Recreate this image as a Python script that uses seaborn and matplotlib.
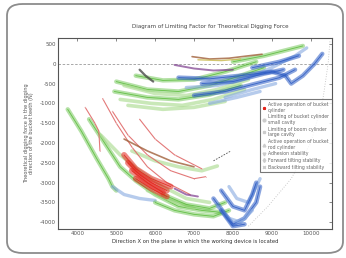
import matplotlib
matplotlib.use("Agg")
import matplotlib.pyplot as plt
import seaborn as sns
import pandas as pd
from matplotlib.lines import Line2D
from matplotlib.patches import FancyBboxPatch

sns.set_theme(style="white")
plt.rcParams['font.family'] = ['DejaVu Sans']

# ---------------- data ----------------
x_ticks = [4000, 5000, 6000, 7000, 8000, 9000, 10000]
y_ticks = [500, 0, -500, -1000, -1500, -2000, -2500, -3000, -3500, -4000]

legend_labels = [
    "Active operation of bucket\ncylinder",
    "Limiting of bucket cylinder\nsmall cavity",
    "Limiting of boom cylinder\nlarge cavity",
    "Active operation of bucket\nrod cylinder",
    "Adhesion stability",
    "Forward tilting stability",
    "Backward tilting stability",
]

# upper group
ga_x = [5000, 5800, 6600, 7400, 8200, 8800]
ga_y = [-450, -650, -700, -550, -300, -100]
gb_x = [4950, 5800, 6600, 7400, 8200]
gb_y = [-700, -850, -900, -780, -550]
gc_x = [5100, 5900, 6700, 7500, 8300]
gc_y = [-900, -1000, -1050, -900, -650]
gd_x = [5500, 6200, 7000, 7800, 8600]
gd_y = [-300, -420, -400, -200, 50]
ge_x = [8000, 8800, 9400, 9800]
ge_y = [50, 200, 350, 450]
gf_x = [5200, 6000, 6800, 7600, 8400]
gf_y = [-550, -750, -800, -650, -400]
gg_x = [5300, 6200, 7000, 7800]
gg_y = [-1050, -1150, -1100, -950]
ba_x = [6600, 7400, 8200, 9000, 9350, 9500, 9800, 10100, 10300]
ba_y = [-350, -380, -300, -200, -300, -500, -300, 0, 250]
bb_x = [6800, 7600, 8400, 9000, 9600, 9900]
bb_y = [-600, -550, -350, -100, 200, 400]
bc_x = [7000, 7800, 8600, 9200, 9600]
bc_y = [-800, -700, -500, -350, -150]
bd_x = [7400, 8100, 8700]
bd_y = [-1000, -850, -700]
be_x = [7200, 8000, 8800, 9300]
be_y = [-500, -450, -250, -150]
bf_x = [7800, 8500, 9100]
bf_y = [-850, -650, -500]
bg_x = [8500, 9200, 9700]
bg_y = [-100, 50, 200]
pa_x = [6500, 7000, 7500, 8000]
pa_y = [-30, -120, -170, -150]
br_up_x = [6950, 7400, 7900, 8400, 8750]
br_up_y = [180, 120, 140, 200, 240]
yl_up_x = [7100, 7700, 8200]
yl_up_y = [100, 80, 120]
dk_x = [5600, 5750, 5950]
dk_y = [-150, -300, -450]

# lower group
gl_x = [3750, 4100, 4500, 4800, 4900, 5000]
gl_y = [-1150, -1700, -2400, -2900, -3100, -3200]
bl_x = [4900, 5200, 5600, 6000]
bl_y = [-3100, -3300, -3400, -3450]
g2_x = [4300, 4700, 5100, 5500, 6000, 6600, 7200, 7700]
g2_y = [-1400, -2000, -2600, -2950, -3300, -3600, -3700, -3750]
g3_x = [4600, 5100, 5600, 6200, 6800, 7400]
g3_y = [-1800, -2300, -2700, -3100, -3400, -3500]
g4_x = [5400, 6000, 6600, 7200, 7600]
g4_y = [-2200, -2450, -2600, -2700, -2580]
g5_x = [6000, 6500, 7000, 7500, 7900]
g5_y = [-3500, -3700, -3800, -3850, -3700]
g6_x = [6200, 6800, 7400, 7800]
g6_y = [-3300, -3550, -3650, -3500]
g7_x = [5800, 6400, 7000]
g7_y = [-3200, -3450, -3650]
r1_x = [4200, 4450, 4550, 4580]
r1_y = [-1100, -1500, -1700, -2200]
r2_x = [4650, 5000, 5400, 5800, 6300, 6900]
r2_y = [-880, -1500, -2100, -2600, -3000, -3300]
r3_x = [4900, 5300, 5800, 6400, 7000, 7300]
r3_y = [-1200, -1800, -2300, -2700, -2900, -2850]
r4_x = [5600, 6000, 6500, 7000, 7200]
r4_y = [-1400, -1900, -2300, -2550, -2650]
rd1_x = [5300, 5600, 5900, 6300]
rd1_y = [-2500, -2800, -3000, -3200]
rd2_x = [5400, 5800, 6200]
rd2_y = [-2700, -3000, -3250]
rd3_x = [5200, 5500, 5900, 6400]
rd3_y = [-2300, -2650, -2900, -3100]
rd4_x = [5500, 5900, 6300]
rd4_y = [-2900, -3150, -3350]
brl_x = [5200, 5800, 6400, 7000]
brl_y = [-1900, -2200, -2450, -2600]
b1_x = [7500, 7800, 8000, 8300, 8600, 8700]
b1_y = [-3400, -3800, -4050, -3900, -3500, -3100]
b2_x = [7700, 8000, 8300, 8500, 8600]
b2_y = [-3200, -3600, -3700, -3300, -3000]
b3_x = [7600, 7900, 8200, 8500]
b3_y = [-3600, -3900, -4000, -3700]
b4_x = [7900, 8100, 8400, 8700]
b4_y = [-3100, -3400, -3500, -2900]
b5_x = [7700, 8000, 8300]
b5_y = [-3700, -4100, -4050]
pu_x = [6500, 6800, 7100]
pu_y = [-3150, -3300, -3350]
dash_x = [7500, 7950]
dash_y = [-2450, -2200]
dot_x = [8400, 8900, 9500, 10000, 10300, 10450, 10500]
dot_y = [-4100, -3600, -2900, -2000, -1000, 0, 600]

# ---------------- styles ----------------
styles = {
    "green":  dict(c="#5cbd3c", lw=3.2, alpha=0.45),
    "lgreen": dict(c="#a6d98a", lw=2.6, alpha=0.6),
    "blue":   dict(c="#2d5cc4", lw=3.2, alpha=0.55),
    "lblue":  dict(c="#86a9e0", lw=2.4, alpha=0.6),
    "red":    dict(c="#e3261d", lw=4.2, alpha=0.55),
    "pink":   dict(c="#e06a6a", lw=0.8, alpha=0.9),
    "brown":  dict(c="#a0603a", lw=1.2, alpha=0.8),
    "yellow": dict(c="#c9b84a", lw=1.0, alpha=0.8),
    "purple": dict(c="#7b3a8c", lw=1.4, alpha=0.7),
    "dark":   dict(c="#4a4a4a", lw=1.6, alpha=0.8),
}

segments = [
    (gg_x, gg_y, "lgreen"), (ga_x, ga_y, "green"), (gb_x, gb_y, "green"),
    (gc_x, gc_y, "lgreen"), (gf_x, gf_y, "lgreen"),
    (gd_x, gd_y, "green"), (ge_x, ge_y, "green"),
    (bd_x, bd_y, "lblue"), (bf_x, bf_y, "lblue"), (bc_x, bc_y, "blue"),
    (bb_x, bb_y, "lblue"), (be_x, be_y, "blue"), (bg_x, bg_y, "blue"),
    (ba_x, ba_y, "blue"),
    (pa_x, pa_y, "purple"), (br_up_x, br_up_y, "brown"),
    (yl_up_x, yl_up_y, "yellow"), (dk_x, dk_y, "dark"),
    (gl_x, gl_y, "green"), (bl_x, bl_y, "lblue"),
    (g2_x, g2_y, "green"), (g3_x, g3_y, "lgreen"), (g4_x, g4_y, "lgreen"),
    (g7_x, g7_y, "lgreen"), (g6_x, g6_y, "green"), (g5_x, g5_y, "green"),
    (b4_x, b4_y, "lblue"), (b1_x, b1_y, "blue"), (b2_x, b2_y, "blue"),
    (b3_x, b3_y, "lblue"), (b5_x, b5_y, "blue"),
    (r4_x, r4_y, "pink"), (r3_x, r3_y, "pink"), (r2_x, r2_y, "pink"),
    (r1_x, r1_y, "pink"), (brl_x, brl_y, "brown"),
    (rd3_x, rd3_y, "red"), (rd1_x, rd1_y, "red"), (rd2_x, rd2_y, "red"),
    (rd4_x, rd4_y, "red"), (pu_x, pu_y, "purple"),
]

# ---------------- figure ----------------
fig = plt.figure(figsize=(3.46, 2.58), dpi=100)
fig.patch.set_facecolor("white")
frame = FancyBboxPatch((7 / 346, 5 / 258), 336 / 346, 249 / 258,
                       boxstyle="round,pad=0,rounding_size=0.045",
                       transform=fig.transFigure, fill=False,
                       edgecolor="#8c8c8c", lw=1.3)
fig.patches.append(frame)

ax = fig.add_axes([58 / 346, 29 / 258, 274 / 346, 191 / 258])
ax.set_facecolor("white")

ax.axhline(0, color="#9a9a9a", lw=0.6, ls=(0, (3, 2)), zorder=1)

for sx, sy, st in segments:
    s = styles[st]
    df = pd.DataFrame({"x": sx, "y": sy})
    sns.lineplot(data=df, x="x", y="y", sort=False, estimator=None, ax=ax,
                 color=s["c"], lw=s["lw"], alpha=s["alpha"],
                 solid_capstyle="round")
    if st in ("green", "blue", "red"):
        sns.lineplot(data=df, x="x", y="y", sort=False, estimator=None, ax=ax,
                     color=s["c"], lw=0.6, alpha=0.9)
    if st == "pink":
        sns.lineplot(data=df, x="x", y="y", sort=False, estimator=None, ax=ax,
                     color="#b02020", lw=0, marker=".", markersize=1.2,
                     markeredgewidth=0)

df_dash = pd.DataFrame({"x": dash_x, "y": dash_y})
sns.lineplot(data=df_dash, x="x", y="y", sort=False, estimator=None, ax=ax,
             color="#555555", lw=0.6, ls=(0, (2, 1.5)))
df_dot = pd.DataFrame({"x": dot_x, "y": dot_y})
sns.lineplot(data=df_dot, x="x", y="y", sort=False, estimator=None, ax=ax,
             color="#bbbbbb", lw=0.6, ls=(0, (1, 2)))

ax.set_xlim(3500, 10550)
ax.set_ylim(-4170, 650)
ax.set_xticks(x_ticks)
ax.set_yticks(y_ticks)
ax.set_xticklabels([str(v) for v in x_ticks], fontsize=4, color="#333333")
ax.set_yticklabels([str(v) for v in y_ticks], fontsize=4, color="#333333")
ax.tick_params(direction="in", length=2, width=0.5, top=True, right=True,
               pad=1.5, colors="#555555")
for sp in ax.spines.values():
    sp.set_color("#555555")
    sp.set_linewidth(0.8)

ax.set_xlabel("Direction X on the plane in which the working device is located",
              fontsize=3.8, color="#333333", labelpad=2)
ax.set_ylabel("Theoretical digging force in the digging\ndirection of the bucket teeth (N)",
              fontsize=3.6, color="#555555", labelpad=4, linespacing=1.1)
ax.set_title("Diagram of Limiting Factor for Theoretical Digging Force",
             fontsize=4.1, color="#444444", x=0.555, pad=7)

leg_colors = ["#e3261d", "#cccccc", "#cccccc", "#cccccc", "#cccccc", "#cccccc", "#cccccc"]
leg_markers = ["*", "o", "s", "^", "v", "d", "x"]
handles = [Line2D([], [], color=c, marker=m, lw=0, markersize=2)
           for c, m in zip(leg_colors, leg_markers)]
leg = ax.legend(handles, legend_labels, loc="upper right",
                bbox_to_anchor=(1.0, 0.68), fontsize=3.3, frameon=True,
                fancybox=False, edgecolor="#555555", labelspacing=0.35,
                handlelength=0.8, handletextpad=0.5, borderpad=0.6,
                borderaxespad=0)
leg.get_frame().set_linewidth(0.8)
for t in leg.get_texts():
    t.set_color("#666666")

fig.savefig("out.png", dpi=100)
